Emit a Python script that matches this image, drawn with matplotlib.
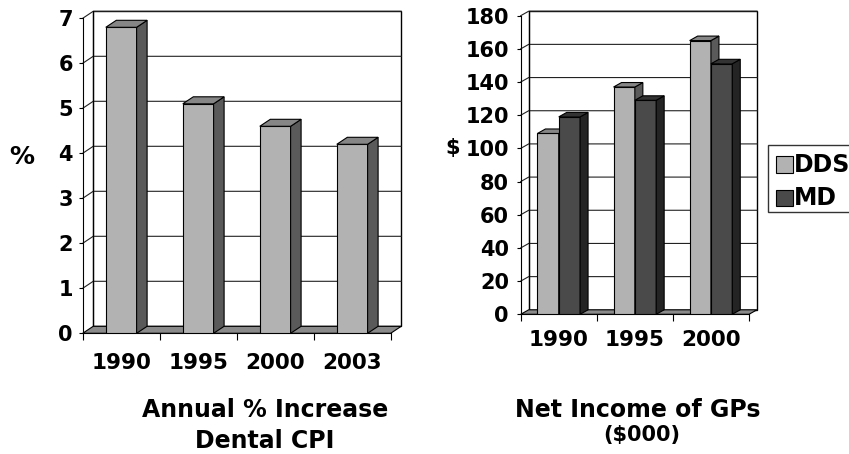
import numpy as np
import matplotlib.pyplot as plt
from matplotlib.patches import Polygon, Rectangle

# chart data
cpi_years = ["1990", "1995", "2000", "2003"]
cpi_increase = [6.8, 5.1, 4.6, 4.2]

income_years = ["1990", "1995", "2000"]
dds_income = [109, 137, 165]
md_income = [119, 129, 151]

W, H = 849, 454
fig = plt.figure(figsize=(W / 100, H / 100), dpi=100)
plt.rcParams["font.family"] = "DejaVu Sans"

LIGHT = ("#b2b2b2", "#5a5a5a", "#868686")
DARK = ("#4a4a4a", "#242424", "#333333")
FLOOR = "#8a8a8a"


def px_axes(x0, x1, ytop, ybot):
    return fig.add_axes([x0 / W, (H - ybot) / H, (x1 - x0) / W, (ybot - ytop) / H])


def setup_panel(ax, labels, ymax, ystep, dx_px, dy_px, ylab_pad, xlab_pad):
    n = len(labels)
    ax.set_xlim(-0.5, n - 0.5)
    ax.set_ylim(0, ymax)
    bb = ax.get_position()
    ddx = dx_px * n / (bb.width * W)
    ddy = dy_px * ymax / (bb.height * H)

    # back wall
    ax.add_patch(Rectangle((-0.5 + ddx, ddy), n, ymax, facecolor="white",
                           edgecolor="black", lw=1.0, clip_on=False, zorder=0))
    # gridlines on side wall + back wall
    for y in np.arange(ystep, ymax + ystep / 2, ystep):
        ax.plot([-0.5, -0.5 + ddx, n - 0.5 + ddx], [y, y + ddy, y + ddy],
                color="#222222", lw=0.8, clip_on=False, zorder=1)
    ax.plot([-0.5 + ddx, -0.5 + ddx], [ddy, ymax + ddy], color="black",
            lw=0.8, clip_on=False, zorder=1)
    # floor
    ax.add_patch(Polygon([(-0.5, 0), (n - 0.5, 0), (n - 0.5 + ddx, ddy),
                          (-0.5 + ddx, ddy)], closed=True, facecolor=FLOOR,
                         edgecolor="black", lw=0.8, clip_on=False, zorder=2))

    for s in ["top", "right"]:
        ax.spines[s].set_visible(False)
    for s in ["left", "bottom"]:
        ax.spines[s].set_linewidth(0.8)
    ax.set_facecolor("none")

    ax.set_xticks(range(n))
    ax.set_xticklabels(labels, fontsize=15.5, fontweight="bold")
    ax.set_xticks(np.arange(-0.5, n, 1), minor=True)
    ax.tick_params(axis="x", which="major", length=0, pad=xlab_pad)
    ax.tick_params(axis="x", which="minor", length=5, width=0.8)
    ax.set_yticks(np.arange(0, ymax + ystep / 2, ystep))
    ax.tick_params(axis="y", length=3, width=0.8, pad=ylab_pad, labelsize=15)
    for t in ax.get_yticklabels():
        t.set_fontweight("bold")
    return ddx, ddy


def bar3d(ax, x, w, v, ddx, ddy, colors, z):
    front, side, top = colors
    ax.bar(x, v, w, color=front, edgecolor="black", lw=0.8, zorder=z)
    r = x + w / 2
    l = x - w / 2
    ax.add_patch(Polygon([(r, 0), (r + ddx, ddy), (r + ddx, v + ddy), (r, v)],
                         closed=True, facecolor=side, edgecolor="black",
                         lw=0.8, clip_on=False, zorder=z))
    ax.add_patch(Polygon([(l, v), (r, v), (r + ddx, v + ddy), (l + ddx, v + ddy)],
                         closed=True, facecolor=top, edgecolor="black",
                         lw=0.8, clip_on=False, zorder=z))


# left panel: dental CPI
ax1 = px_axes(82.7, 390.7, 18.3, 333.3)
ddx, ddy = setup_panel(ax1, cpi_years, 7, 1, 10.5, 7, 4, 14)
for i, v in enumerate(cpi_increase):
    bar3d(ax1, i, 0.4, v, ddx, ddy, LIGHT, 3 + i)

# right panel: net income
ax2 = px_axes(520.7, 749.0, 15.7, 314.3)
ddx, ddy = setup_panel(ax2, income_years, 180, 20, 8, 4.5, 5.5, 11.5)
for i in range(len(income_years)):
    bar3d(ax2, i - 0.14, 0.28, dds_income[i], ddx, ddy, LIGHT, 3 + 2 * i)
    bar3d(ax2, i + 0.14, 0.28, md_income[i], ddx, ddy, DARK, 4 + 2 * i)


# axis labels and titles
def ftext(x, y, s, size, **kw):
    fig.text(x / W, 1 - y / H, s, fontsize=size, fontweight="bold",
             ha="center", va="center", **kw)


ftext(22, 157, "%", 18)
ftext(453, 148, "$", 15)
ftext(265, 410, "Annual % Increase", 17)
ftext(265, 441, "Dental CPI", 17)
ftext(638, 410, "Net Income of GPs", 17)
ftext(642, 435, "($000)", 15)

# legend
fig.patches.append(Rectangle((767.7 / W, 1 - 212 / H), 90 / W, 67 / H,
                             transform=fig.transFigure, facecolor="white",
                             edgecolor="#333333", lw=1.0))
for yc, col, name in [(165, LIGHT[0], "DDS"), (198, DARK[0], "MD")]:
    fig.patches.append(Rectangle((775.5 / W, 1 - (yc + 8.5) / H), 17 / W, 17 / H,
                                 transform=fig.transFigure, facecolor=col,
                                 edgecolor="black", lw=0.8))
    fig.text(794 / W, 1 - yc / H, name, fontsize=17, fontweight="bold",
             ha="left", va="center")

fig.savefig("out.png", dpi=100)
